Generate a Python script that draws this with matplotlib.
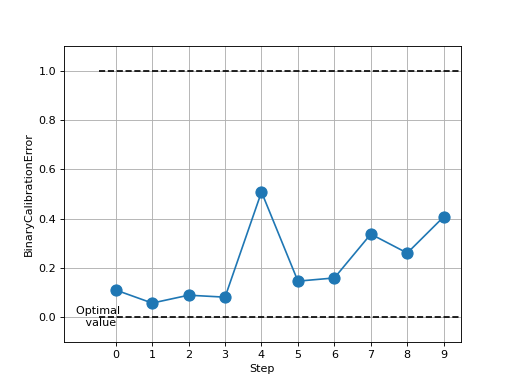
import matplotlib
matplotlib.use("Agg")
import matplotlib.pyplot as plt

steps = [0, 1, 2, 3, 4, 5, 6, 7, 8, 9]
values = [0.110, 0.057, 0.089, 0.081, 0.508, 0.146, 0.159, 0.337, 0.260, 0.407]
optimal_value = 0.0
upper_bound = 1.0

fig, ax = plt.subplots(figsize=(6.4, 4.8), dpi=80)
ax.plot(steps, values, marker="o", markersize=10, linestyle="-")
ax.set_xticks(steps)
ax.grid(True)
ax.set_ylim(-0.1, 1.1)

# bounds drawn over the data range
xlim = (-0.45, 9.45)
ax.hlines([optimal_value, upper_bound], xlim[0], xlim[1], colors="k", linestyles="dashed")
ax.text(xlim[0], optimal_value, "Optimal \n value", horizontalalignment="center", verticalalignment="center")
ax.set_xlim(-1.42, 9.47)

ax.set_xlabel("Step")
ax.set_ylabel("BinaryCalibrationError")
fig.savefig("out.png", dpi=80)
